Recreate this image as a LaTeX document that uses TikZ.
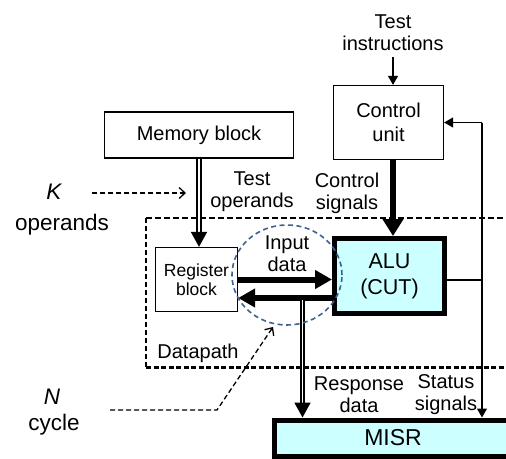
\documentclass[tikz,border=0pt]{standalone}
\usepackage{fontspec}
\setmainfont{Liberation Sans}
\usetikzlibrary{arrows.meta,calc}
\definecolor{cutfill}{HTML}{CCFFFF}
\definecolor{ringblue}{HTML}{3F6391}

\begin{document}
\begin{tikzpicture}[x=1pt,y=-1pt,
  lbl/.style={font=\fontsize{20}{22}\selectfont, align=center, inner sep=0pt},
  biglbl/.style={font=\fontsize{22.5}{24}\selectfont, align=center, inner sep=0pt},
  box/.style={draw, line width=1.3pt, fill=white, inner sep=0pt,
    font=\fontsize{20}{24}\selectfont, align=center},
  cutbox/.style={draw, line width=5pt, fill=cutfill, inner sep=0pt,
    font=\fontsize{21.5}{26}\selectfont, align=center},
  thinarrow/.style={line width=1.3pt, -{Triangle[width=10pt,length=9pt]}},
  fatarrow/.style={line width=6pt, -{Triangle[width=18pt,length=17pt]}},
  twinarrow/.style={line width=1.9pt, double, double distance=1.4pt,
    -{Triangle[width=16pt,length=15pt]}},
  hintarrow/.style={line width=1.3pt, dash pattern=on 5pt off 3pt,
    -{Straight Barb[length=6pt,width=11pt]}},
]
\clip (0,0) rectangle (506,458);
\fill[white] (0,0) rectangle (506,458);

% datapath frame (runs off the right edge)
\draw[line width=1.3pt, dash pattern=on 5pt off 3pt] (146,218) -- (146,367);
\draw[line width=2pt, dash pattern=on 6pt off 3pt] (146,218) -- (520,218);
\draw[line width=3pt, dash pattern=on 5pt off 2.5pt] (146,367) -- (520,367);

% blocks
\node[box, minimum width=189pt, minimum height=46pt] (mem) at (199,135) {Memory block};
\node[box, minimum width=82pt, minimum height=64pt,
      font=\fontsize{17.5}{18.5}\selectfont] (reg) at (196.5,279.5) {Register\\block};
\node[box, minimum width=110pt, minimum height=74pt] (cu) at (388.5,122.5) {Control\\unit};
\node[cutbox, minimum width=110pt, minimum height=75pt] (alu) at (389.5,276) {ALU\\(CUT)};
\node[cutbox, font=\fontsize{23}{26}\selectfont,
      minimum width=238pt, minimum height=36pt] (misr) at (393,438) {MISR};

% labels
\node[lbl] (ti) at (393,32.5) {Test\\instructions};
\node[lbl] (tops) at (252,192) {Test\\operands};
\node[lbl] (csig) at (347,193) {Control\\signals};
\node[lbl] (indata) at (287,254) {Input\\data};
\node[lbl] (dp) at (198,353) {Datapath};
\node[lbl] (resp) at (359,395) {Response\\data};
\node[lbl] (stat) at (446,395) {Status\\signals};
\node[biglbl, font=\fontsize{22.5}{24}\selectfont\itshape] (k) at (54,192) {K};
\node[biglbl] (kops) at (62,225) {operands};
\node[biglbl, font=\fontsize{22.5}{24}\selectfont\itshape] (n) at (52,397) {N};
\node[biglbl] (ncyc) at (54,425) {cycle};

% hint arrows
\coordinate (kstart) at (92,193);
\coordinate (kend) at (186,193);
\draw[hintarrow] (kstart) -- (kend);
\coordinate (nstart) at (110,410);
\coordinate (nbend) at (217,410);
\coordinate (nend) at (273,327);
\draw[hintarrow] (nstart) -- (nbend) -- (nend);

% test instructions and control
\coordinate (tiend) at (393,57);
\draw[thinarrow] (tiend) -- (tiend |- cu.north);
\draw[line width=6pt, -{Triangle[width=20pt,length=17pt]}]
  ($(cu.south)+(4.5,0)$) -- ($(alu.north)+(3.5,0)$);

% operands into the register block
\draw[twinarrow] (mem.south) -- (mem.south |- reg.north);

% data between register block and ALU
\draw[fatarrow] (reg.east) -- (reg.east -| alu.west);
\draw[fatarrow] ([yshift=-22pt]alu.west) -- ([yshift=-22pt]alu.west -| reg.east);

% response data to the MISR
\coordinate (rtap) at (302.5,300);
\draw[twinarrow] (rtap) -- (rtap |- misr.north);

% status signals back to control and down to the MISR
\coordinate (stap) at (482,280);
\coordinate (stop) at (482,122.5);
\draw[line width=1.3pt] (stap -| alu.east) -- (stap);
\draw[thinarrow] (stop) -- (stop -| cu.east);
\draw[thinarrow] (stop) -- (stop |- misr.north);

% circled interface, drawn over the data lines
\draw[ringblue, line width=1.6pt, dash pattern=on 5pt off 3.5pt]
  (287,275) ellipse [x radius=55pt, y radius=50pt];
\end{tikzpicture}
\end{document}
